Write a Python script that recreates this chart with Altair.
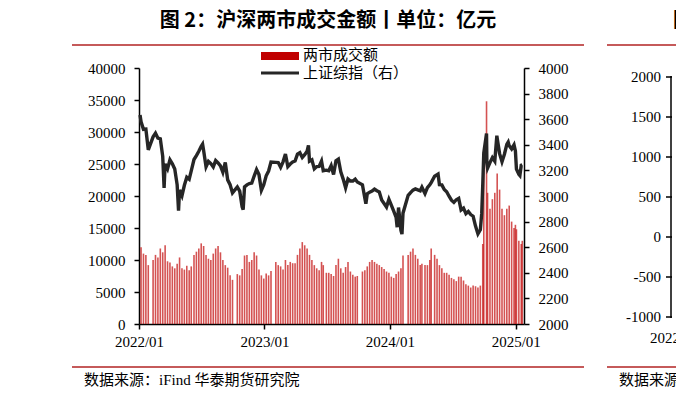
import altair as alt
import pandas as pd

# ---------------- data ----------------
bar_dates = [
    "2022-01-07", "2022-01-14", "2022-01-21", "2022-01-28",
    "2022-02-11", "2022-02-18", "2022-02-25",
    "2022-03-04", "2022-03-11", "2022-03-18", "2022-03-25",
    "2022-04-01", "2022-04-08", "2022-04-15", "2022-04-22", "2022-04-29",
    "2022-05-06", "2022-05-13", "2022-05-20", "2022-05-27",
    "2022-06-02", "2022-06-10", "2022-06-17", "2022-06-24",
    "2022-07-01", "2022-07-08", "2022-07-15", "2022-07-22", "2022-07-29",
    "2022-08-05", "2022-08-12", "2022-08-19", "2022-08-26",
    "2022-09-02", "2022-09-09", "2022-09-16", "2022-09-23", "2022-09-30",
    "2022-10-14", "2022-10-21", "2022-10-28",
    "2022-11-04", "2022-11-11", "2022-11-18", "2022-11-25",
    "2022-12-02", "2022-12-09", "2022-12-16", "2022-12-23", "2022-12-30",
    "2023-01-06", "2023-01-13", "2023-01-20",
    "2023-02-03", "2023-02-10", "2023-02-17", "2023-02-24",
    "2023-03-03", "2023-03-10", "2023-03-17", "2023-03-24", "2023-03-31",
    "2023-04-07", "2023-04-14", "2023-04-21", "2023-04-28",
    "2023-05-05", "2023-05-12", "2023-05-19", "2023-05-26",
    "2023-06-02", "2023-06-09", "2023-06-16", "2023-06-21", "2023-06-30",
    "2023-07-07", "2023-07-14", "2023-07-21", "2023-07-28",
    "2023-08-04", "2023-08-11", "2023-08-18", "2023-08-25",
    "2023-09-01", "2023-09-08", "2023-09-15", "2023-09-22", "2023-09-28",
    "2023-10-13", "2023-10-20", "2023-10-27",
    "2023-11-03", "2023-11-10", "2023-11-17", "2023-11-24",
    "2023-12-01", "2023-12-08", "2023-12-15", "2023-12-22", "2023-12-29",
    "2024-01-05", "2024-01-12", "2024-01-19", "2024-01-26",
    "2024-02-02", "2024-02-08", "2024-02-23",
    "2024-03-01", "2024-03-08", "2024-03-15", "2024-03-22", "2024-03-29",
    "2024-04-03", "2024-04-12", "2024-04-19", "2024-04-26", "2024-04-30",
    "2024-05-10", "2024-05-17", "2024-05-24", "2024-05-31",
    "2024-06-07", "2024-06-14", "2024-06-21", "2024-06-28",
    "2024-07-05", "2024-07-12", "2024-07-19", "2024-07-26",
    "2024-08-02", "2024-08-09", "2024-08-16", "2024-08-23", "2024-08-30",
    "2024-09-06", "2024-09-13", "2024-09-20", "2024-09-27", "2024-09-30",
    "2024-10-08", "2024-10-11", "2024-10-18", "2024-10-25",
    "2024-11-01", "2024-11-08", "2024-11-15", "2024-11-22", "2024-11-29",
    "2024-12-06", "2024-12-13", "2024-12-20", "2024-12-27", "2024-12-31",
    "2025-01-03", "2025-01-10", "2025-01-17", "2025-01-20",
]
bar_values = [
    12000, 11000, 10800, 9200,
    10000, 10800, 10400,
    11800, 11200, 12300, 9800,
    9600, 9000, 8700, 9400, 10400,
    8700, 8500, 9100, 8400,
    9000, 10800, 11300, 11800,
    12600, 12200, 10800, 10200, 10000,
    11000, 11800, 12200, 11200,
    10000, 9200, 8800, 7600, 6900,
    7800, 7600, 8600,
    10700, 10800, 9700, 10000,
    11200, 10700, 8500, 7600, 7100,
    7900, 7600, 8300,
    9700, 9200, 9000, 8500,
    10000, 9200, 9700, 9500, 9500,
    10800, 11800, 12800, 12300,
    11800, 10800, 10000, 9200,
    8700, 8400, 9700, 9200, 8000,
    8000, 7800, 7500, 9200,
    10200, 8700, 8000, 8900,
    9700, 8200, 7700, 7400, 7500,
    8200, 8400, 9000,
    9700, 10000, 9700, 9400,
    9200, 8900, 8600, 8200, 8000,
    7400, 7200, 7800, 8200,
    8700, 10700, 10800,
    11300, 11800, 10800, 10200, 9200,
    9400, 9200, 9200, 10000, 11800,
    10800, 10200, 9200, 8700,
    8000, 8000, 7700, 7200,
    7000, 6700, 7400, 7400,
    6800, 6200, 6000, 5700, 6000,
    5900, 5700, 6000, 12500, 26100,
    34800, 20500, 18000, 19500,
    20500, 23500, 21000, 18000, 17000,
    18000, 18500, 16000, 15000, 15500,
    14800, 13000, 12500, 13000,
]

line_dates = [
    "2022-01-04", "2022-01-07", "2022-01-14", "2022-01-21", "2022-01-28",
    "2022-02-11", "2022-02-18", "2022-02-25", "2022-03-04", "2022-03-11",
    "2022-03-15", "2022-03-18", "2022-03-25", "2022-04-01", "2022-04-08",
    "2022-04-15", "2022-04-22", "2022-04-26", "2022-04-29", "2022-05-06",
    "2022-05-13", "2022-05-20", "2022-05-27", "2022-06-02", "2022-06-10",
    "2022-06-17", "2022-06-24", "2022-07-01", "2022-07-05", "2022-07-08",
    "2022-07-15", "2022-07-22", "2022-07-29", "2022-08-05", "2022-08-12",
    "2022-08-19", "2022-08-26", "2022-09-02", "2022-09-09", "2022-09-16",
    "2022-09-23", "2022-09-30", "2022-10-14", "2022-10-21", "2022-10-28",
    "2022-10-31", "2022-11-04", "2022-11-11", "2022-11-18", "2022-11-25",
    "2022-12-02", "2022-12-09", "2022-12-16", "2022-12-23", "2022-12-30",
    "2023-01-06", "2023-01-13", "2023-01-20", "2023-02-03", "2023-02-10",
    "2023-02-17", "2023-02-24", "2023-03-03", "2023-03-10", "2023-03-17",
    "2023-03-24", "2023-03-31", "2023-04-07", "2023-04-14", "2023-04-21",
    "2023-04-28", "2023-05-05", "2023-05-09", "2023-05-12", "2023-05-19",
    "2023-05-26", "2023-06-02", "2023-06-09", "2023-06-16", "2023-06-21",
    "2023-06-30", "2023-07-07", "2023-07-14", "2023-07-21", "2023-07-28",
    "2023-08-04", "2023-08-11", "2023-08-18", "2023-08-25", "2023-09-01",
    "2023-09-08", "2023-09-15", "2023-09-22", "2023-09-28", "2023-10-13",
    "2023-10-20", "2023-10-23", "2023-10-27", "2023-11-03", "2023-11-10",
    "2023-11-17", "2023-11-24", "2023-12-01", "2023-12-08", "2023-12-15",
    "2023-12-22", "2023-12-29",
    "2024-01-05", "2024-01-12", "2024-01-19", "2024-01-22", "2024-01-26",
    "2024-02-02", "2024-02-05", "2024-02-08", "2024-02-23", "2024-03-01",
    "2024-03-08", "2024-03-15", "2024-03-22", "2024-03-29", "2024-04-03",
    "2024-04-12", "2024-04-19", "2024-04-26", "2024-04-30", "2024-05-10",
    "2024-05-20", "2024-05-24", "2024-05-31", "2024-06-07", "2024-06-14",
    "2024-06-21", "2024-06-28", "2024-07-05", "2024-07-12", "2024-07-19",
    "2024-07-26", "2024-08-02", "2024-08-09", "2024-08-16", "2024-08-23",
    "2024-08-30", "2024-09-06", "2024-09-13", "2024-09-20", "2024-09-24",
    "2024-09-27", "2024-09-30", "2024-10-08", "2024-10-09", "2024-10-11",
    "2024-10-18", "2024-10-25", "2024-11-01", "2024-11-07", "2024-11-08",
    "2024-11-15", "2024-11-22", "2024-11-29", "2024-12-06", "2024-12-10",
    "2024-12-13", "2024-12-20", "2024-12-27", "2024-12-31", "2025-01-03",
    "2025-01-10", "2025-01-13", "2025-01-17", "2025-01-20",
]
line_values = [
    3632, 3580, 3521, 3523, 3361,
    3462, 3491, 3452, 3447, 3310,
    3064, 3251, 3212, 3283, 3252,
    3211, 3087, 2886, 3047, 3002,
    3084, 3147, 3131, 3196, 3285,
    3316, 3349, 3388, 3405, 3356,
    3228, 3270, 3253, 3227, 3277,
    3258, 3236, 3186, 3262, 3126,
    3088, 3024, 3071, 3038, 2916,
    2893, 3071, 3087, 3097, 3101,
    3156, 3206, 3167, 3045, 3089,
    3158, 3195, 3265, 3263, 3261,
    3224, 3267, 3328, 3230, 3250,
    3266, 3273, 3327, 3338, 3301,
    3323, 3350, 3395, 3272, 3283,
    3212, 3230, 3231, 3273, 3197,
    3202, 3197, 3237, 3168, 3275,
    3288, 3189, 3132, 3064, 3133,
    3117, 3117, 3132, 3110, 3088,
    2983, 2939, 3018, 3030, 3038,
    3054, 3041, 3032, 2969, 2942,
    2914, 2975,
    2929, 2882, 2832, 2756, 2910,
    2731, 2702, 2866, 3005, 3027,
    3046, 3055, 3048, 3041, 3069,
    3019, 3065, 3088, 3105, 3154,
    3171, 3089, 3087, 3051, 3033,
    2998, 2967, 2950, 2971, 2982,
    2891, 2905, 2862, 2879, 2855,
    2842, 2765, 2704, 2736, 2864,
    3088, 3336, 3489, 3258, 3217,
    3261, 3300, 3272, 3471, 3452,
    3331, 3268, 3326, 3404, 3422,
    3392, 3368, 3400, 3352, 3211,
    3169, 3160, 3241, 3244,
]

left_ticks = [0, 5000, 10000, 15000, 20000, 25000, 30000, 35000, 40000]
right_ticks = [2000, 2200, 2400, 2600, 2800, 3000, 3200, 3400, 3600, 3800, 4000]
x_tick_years = [2022, 2023, 2024, 2025]
side_labels = ["2000", "1500", "1000", "500", "0", "-500", "-1000"]
side_values = [2000, 1500, 1000, 500, 0, -500, -1000]

title_text = "图 2：沪深两市成交金额丨单位：亿元"
legend_bar = "两市成交额"
legend_line = "上证综指（右）"
source_text = "数据来源：iFind 华泰期货研究院"

# ---------------- styling ----------------
SERIF = "Liberation Serif"
CJK = "Noto Sans CJK SC"
MIX = "Liberation Serif, Noto Sans CJK SC"
RED_LINE = "#C55A5A"
W, H = 385, 256

bar_df = pd.DataFrame({"date": bar_dates, "value": bar_values})
line_df = pd.DataFrame({"date": line_dates, "value": line_values})
side_df = pd.DataFrame({"v": side_values, "label": side_labels})
one = pd.DataFrame({"a": [0]})

xscale = alt.Scale(
    type="utc",
    domain=[alt.DateTime(year=2022, month=1, date=1, utc=True),
            alt.DateTime(year=2025, month=1, date=25, utc=True)],
    nice=False,
    padding=0,
)
axis_common = dict(
    domainColor="black", domainWidth=1.5, tickColor="black", tickWidth=1.5,
    tickSize=5, labelFont=SERIF, labelFontSize=15, labelColor="black",
    grid=False, title=None,
)
xaxis = alt.Axis(
    values=[alt.DateTime(year=y, month=1, date=1, utc=True) for y in x_tick_years],
    labelExpr="utcFormat(datum.value, '%Y/%m')",
    labelPadding=5, labelFlush=False, labelOverlap=False,
    **axis_common,
)

bars = alt.Chart(bar_df).mark_bar(width=1.6, color="#C00000", opacity=0.68).encode(
    x=alt.X("date:T", scale=xscale, axis=xaxis),
    y=alt.Y("value:Q", scale=alt.Scale(domain=[0, 40000], nice=False),
            axis=alt.Axis(orient="left", values=left_ticks, format="d",
                          labelPadding=9, **axis_common)),
)

line = alt.Chart(line_df).mark_line(color="#262626", strokeWidth=3.4).encode(
    x=alt.X("date:T", scale=xscale, axis=xaxis),
    y=alt.Y("value:Q", scale=alt.Scale(domain=[2000, 4000], nice=False, zero=False),
            axis=alt.Axis(orient="right", values=right_ticks, format="d",
                          labelPadding=9, **axis_common)),
)

# neighbouring (cut-off) chart's axis on the far right
side_scale = alt.Scale(domain=[-1087.5, 2112.5], nice=False, zero=False)
side_text = alt.Chart(side_df).mark_text(
    align="right", baseline="middle", font=SERIF, fontSize=15, color="black"
).encode(x=alt.value(522), y=alt.Y("v:Q", scale=side_scale, axis=None), text="label:N")
side_ticks = alt.Chart(side_df).mark_rule(color="black", strokeWidth=1.5).encode(
    x=alt.value(527), x2=alt.value(533), y=alt.Y("v:Q", scale=side_scale, axis=None))
side_axis = alt.Chart(one).mark_rule(color="black", strokeWidth=1.5).encode(
    x=alt.value(532), y=alt.value(8), y2=alt.value(250))
side_xlabel = alt.Chart(one).mark_text(
    align="left", baseline="middle", font=SERIF, fontSize=15, color="black"
).encode(x=alt.value(511), y=alt.value(270), text=alt.value("2022/01"))


def hrule(x1, x2, y, color=RED_LINE, width=2):
    return alt.Chart(one).mark_rule(color=color, strokeWidth=width).encode(
        x=alt.value(x1), x2=alt.value(x2), y=alt.value(y))


def label(txt, x, y, size, font=CJK, weight="normal", align="left"):
    return alt.Chart(one).mark_text(
        align=align, baseline="middle", font=font, fontSize=size,
        fontWeight=weight, color="black"
    ).encode(x=alt.value(x), y=alt.value(y), text=alt.value(txt))


title = label(title_text, 189, -47, 20, weight="bold", align="center")
title2 = label("图", 534, -47, 20, weight="bold")
top1 = hrule(-67, 445, -23)
top2 = hrule(468, 545, -23)
bot1 = hrule(-67, 445, 299)
bot2 = hrule(468, 545, 299)
src1 = label(source_text, -55, 312, 15, font=MIX)
src2 = label("数据来源：iFind 华泰期货研究院", 480, 312, 15, font=MIX)

leg_rect = alt.Chart(one).mark_rect(color="#C00000").encode(
    x=alt.value(122), x2=alt.value(160), y=alt.value(-16), y2=alt.value(-8))
leg_line = hrule(122, 160, 5, color="#262626", width=3)
leg_t1 = label(legend_bar, 164, -13.5, 15)
leg_t2 = label(legend_line, 164, 4.5, 15)

chart = alt.layer(
    bars, line, side_text, side_ticks, side_axis, side_xlabel,
    title, title2, top1, top2, bot1, bot2, src1, src2,
    leg_rect, leg_line, leg_t1, leg_t2,
).resolve_scale(y="independent").properties(
    width=W, height=H,
    padding={"left": 139, "top": 68, "right": 152, "bottom": 73},
    autosize=alt.AutoSizeParams(type="none"),
    background="white",
).configure_view(stroke=None)

chart.save("out.html", embed_options={"renderer": "svg", "actions": False})
